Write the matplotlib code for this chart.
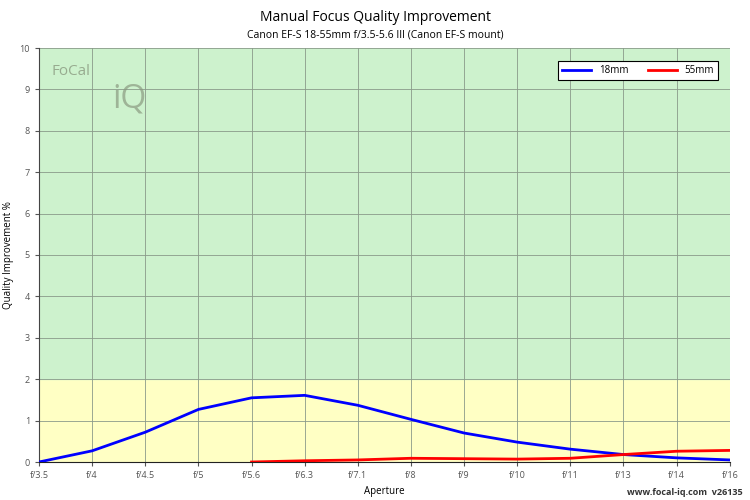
import matplotlib.pyplot as plt

apertures = ["f/3.5", "f/4", "f/4.5", "f/5", "f/5.6", "f/6.3", "f/7.1", "f/8",
             "f/9", "f/10", "f/11", "f/13", "f/14", "f/16"]
q18 = [0, 0.27, 0.72, 1.27, 1.55, 1.61, 1.37, 1.03, 0.70, 0.48, 0.31, 0.18, 0.10, 0.05]
q55 = [0, 0.03, 0.05, 0.09, 0.08, 0.07, 0.09, 0.18, 0.26, 0.28]

plt.rcParams['font.family'] = ['Open Sans', 'DejaVu Sans']
fig = plt.figure(figsize=(7.5, 5), dpi=100)
ax = fig.add_axes([0.052, 0.076, 0.921, 0.828])

x = list(range(len(apertures)))
ax.axhspan(0, 2, color='#ffffc4', zorder=0)
ax.axhspan(2, 10, color='#cdf2cd', zorder=0)
ax.plot(x, q18, color='#0000ff', lw=2, label='18mm', zorder=3)
ax.plot(x[4:], q55, color='#ff0000', lw=2, label='55mm', zorder=3)

ax.set_xlim(0, len(apertures) - 1)
ax.set_ylim(0, 10)
ax.set_xticks(x)
ax.set_xticklabels(apertures)
ax.set_yticks(range(11))
ax.grid(True, color='#8a9a8a', lw=0.6)
ax.tick_params(labelsize=6.5, colors='#555555', length=3)
for s in ['top', 'right']:
    ax.spines[s].set_visible(False)
ax.spines['left'].set_color('#444444')
ax.spines['bottom'].set_color('#222222')
ax.set_xlabel('Aperture', fontsize=7)
ax.set_ylabel('Quality Improvement %', fontsize=7)

leg = ax.legend(loc='upper right', ncol=2, fontsize=7, fancybox=False,
                edgecolor='black', framealpha=1, handlelength=3,
                bbox_to_anchor=(0.99, 0.98))
leg.get_frame().set_linewidth(0.8)

fig.text(0.5, 0.958, 'Manual Focus Quality Improvement', ha='center', fontsize=10)
fig.text(0.5, 0.925, 'Canon EF-S 18-55mm f/3.5-5.6 III (Canon EF-S mount)',
         ha='center', fontsize=7.5)
fig.text(0.068, 0.85, 'FoCal', fontsize=11, color='#8a9a80', alpha=0.8)
fig.text(0.15, 0.785, 'iQ', fontsize=24, color='#8a9a80', alpha=0.7)
fig.text(0.99, 0.01, 'www.focal-iq.com  v26135', ha='right', fontsize=6.5,
         weight='bold', color='#333333')

fig.savefig('out.png')
